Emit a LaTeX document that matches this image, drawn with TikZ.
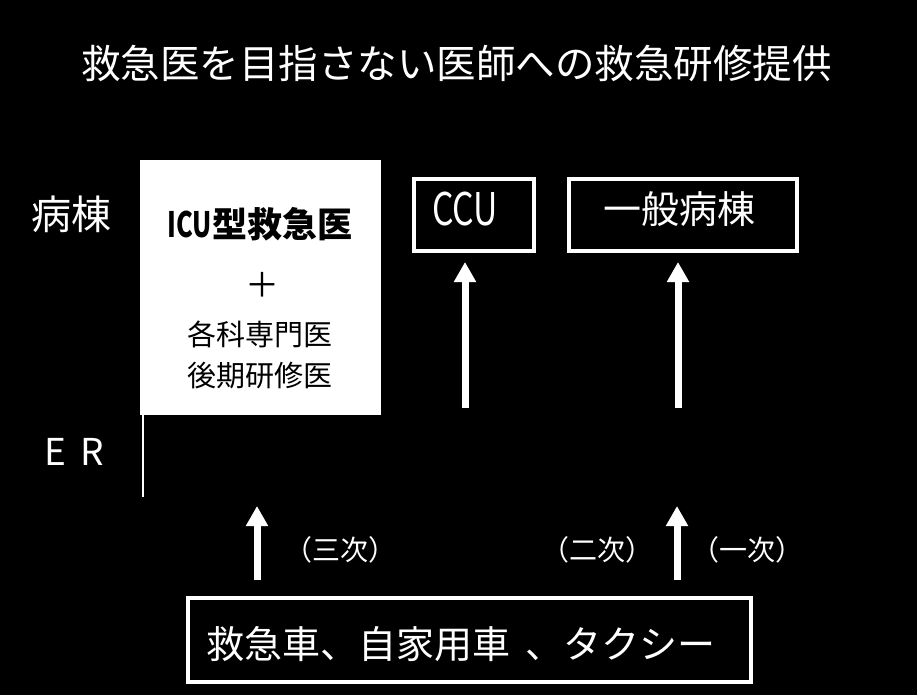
\documentclass[tikz,border=0pt]{standalone}
\usepackage{fontspec}
\setmainfont{Noto Sans CJK JP}
\usetikzlibrary{arrows.meta}
\begin{document}
\begin{tikzpicture}[x=1pt,y=-1pt,
  txt/.style={text=white,inner sep=0pt,anchor=center},
  wbox/.style={draw=white,line width=3.5pt,inner sep=0pt},
  uparrow/.style={draw=white,line width=7pt,-{Triangle[width=21pt,length=20pt]}},
  fs/.style={font=\fontsize{#1}{#1}\selectfont}]
\fill[black] (0,0) rectangle (917,695);
\useasboundingbox (0,0) rectangle (917,695);
% title
\node[txt,fs=39.5,anchor=west] (title) at (81,64) {救急医を目指さない医師への救急研修提供};
% row labels
\node[txt,fs=40] (byoto) at (71,214) {病棟};
\node[txt,fs=37] (er) at (74,452) {E\hspace{14pt}R};
% white box
\node[fill=white,minimum width=241pt,minimum height=255pt,inner sep=0pt,anchor=north west] (wb) at (140,160) {};
\draw[white,line width=1.2pt] (wb.south west) ++(3,0) coordinate (wl) -- ++(0,82) coordinate (wl2);
\node[inner sep=0pt,font=\fontsize{35}{35}\selectfont\bfseries] (icu) at (260,224) {\scalebox{0.72}[1]{ICU}型救急医};
\node[inner sep=0pt,fs=34] (plus) at (262,285) {＋};
\node[inner sep=0pt,fs=29] (kaku) at (260,334) {各科専門医};
\node[inner sep=0pt,fs=29] (koki) at (260,376) {後期研修医};
% boxes
\node[wbox,minimum width=120pt,minimum height=72pt,anchor=north west] (ccu) at (412,177) {};
\node[txt,fs=45] (ccut) at (465,209) {\scalebox{0.75}[1]{CCU}};
\node[wbox,minimum width=228pt,minimum height=72pt,anchor=north west] (ippan) at (567,177) {};
\node[txt,fs=38] (ippant) at (679,209) {一般病棟};
% arrows to wards
\coordinate (a1s) at (465,408);
\coordinate (a1e) at (465,262);
\coordinate (a2s) at (678,408);
\coordinate (a2e) at (678,262);
\draw[uparrow] (a1s) -- (a1e);
\draw[uparrow] (a2s) -- (a2e);
% bottom box
\node[wbox,line width=4pt,minimum width=563pt,minimum height=84pt,anchor=north west] (bot) at (186,596) {};
\node[txt,fs=38,anchor=west] (bott) at (206,644) {救急車、自家用車\hspace{0.4em}、タクシー};
% bottom arrows
\coordinate (b1s) at (257,580);
\coordinate (b1e) at (257,506);
\coordinate (b2s) at (677,580);
\coordinate (b2e) at (677,506);
\draw[uparrow] (b1s) -- (b1e);
\draw[uparrow] (b2s) -- (b2e);
\node[txt,fs=28] (sanji) at (340,550) {（三次）};
\node[txt,fs=28] (niji) at (597,550) {（二次）};
\node[txt,fs=28] (ichiji) at (747,550) {（一次）};
\end{tikzpicture}
\end{document}
